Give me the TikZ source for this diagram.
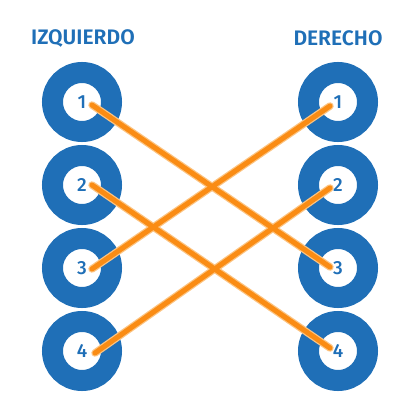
\documentclass[tikz,border=0pt]{standalone}
\usepackage{fontspec}
\setmainfont{Fira Sans}[UprightFont={* Medium},BoldFont={* SemiBold}]
\usepackage{tikz}
\definecolor{ringblue}{RGB}{31,111,183}
\definecolor{lineorange}{RGB}{250,140,20}
\definecolor{glow}{RGB}{252,196,130}

\tikzset{
ring/.style={circle,draw=ringblue,line width=21pt,minimum size=59pt,inner sep=0pt,
  text=ringblue,font=\fontsize{19}{19}\selectfont},
title/.style={text=ringblue,font=\fontsize{21}{21}\selectfont\bfseries},
cable/.style={lineorange,line width=5pt,line cap=round},
cableglow/.style={glow,line width=7.5pt,line cap=round}
}

\begin{document}
\begin{tikzpicture}[x=1pt,y=-1pt]
\useasboundingbox (0,0) rectangle (420,420);
\node [title] (izq) at (83,38) {IZQUIERDO};
\node [title] (der) at (338,38) {DERECHO};
\node [ring] (l1) at (82,102) {1};
\node [ring] (l2) at (82,185) {2};
\node [ring] (l3) at (82,268) {3};
\node [ring] (l4) at (82,351) {4};
\node [ring] (r1) at (338,102) {1};
\node [ring] (r2) at (338,185) {2};
\node [ring] (r3) at (338,268) {3};
\node [ring] (r4) at (338,351) {4};
% cables
\foreach \a/\b/\dx/\dy/\ey in {l1/r3/10/-3/1,l2/r4/10/0/3,l3/r1/10/-1/-4,l4/r2/13/-2/-3}
{
\draw [cableglow] ([xshift=\dx pt,yshift=\dy pt]\a.center) -- ([xshift=-8pt,yshift=\ey pt]\b.center);
}
\foreach \a/\b/\dx/\dy/\ey in {l1/r3/10/-3/1,l2/r4/10/0/3,l3/r1/10/-1/-4,l4/r2/13/-2/-3}
{
\draw [cable] ([xshift=\dx pt,yshift=\dy pt]\a.center) -- ([xshift=-8pt,yshift=\ey pt]\b.center);
}
\end{tikzpicture}
\end{document}
